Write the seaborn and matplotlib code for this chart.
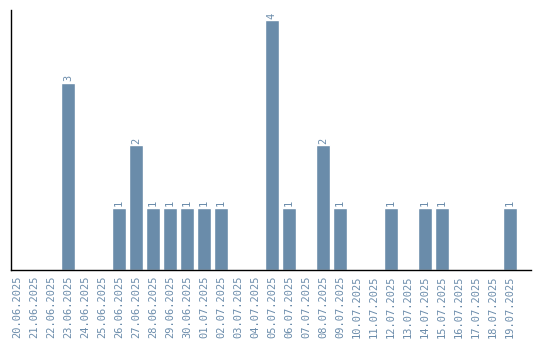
import matplotlib
matplotlib.use("Agg")
import matplotlib.pyplot as plt
import seaborn as sns
import pandas as pd

dates = ["20.06.2025", "21.06.2025", "22.06.2025", "23.06.2025", "24.06.2025",
         "25.06.2025", "26.06.2025", "27.06.2025", "28.06.2025", "29.06.2025",
         "30.06.2025", "01.07.2025", "02.07.2025", "03.07.2025", "04.07.2025",
         "05.07.2025", "06.07.2025", "07.07.2025", "08.07.2025", "09.07.2025",
         "10.07.2025", "11.07.2025", "12.07.2025", "13.07.2025", "14.07.2025",
         "15.07.2025", "16.07.2025", "17.07.2025", "18.07.2025", "19.07.2025"]
counts = [0, 0, 0, 3, 0, 0, 1, 2, 1, 1, 1, 1, 1, 0, 0,
          4, 1, 0, 2, 1, 0, 0, 1, 0, 1, 1, 0, 0, 0, 1]

df = pd.DataFrame({"date": dates, "count": counts})

sns.set_style("white")
plt.rcParams['font.family'] = ['DejaVu Sans Mono', 'DejaVu Sans']
bar_color = "#6a8caa"
text_color = "#6b8cab"

fig = plt.figure(figsize=(5.4, 3.4), dpi=100)
ax = fig.add_axes([11/540, 70/340, 520/540, 260/340])
sns.barplot(data=df, x="date", y="count", color=bar_color, width=0.82,
            saturation=1, ax=ax)
ax.set_xlim(-0.35, 30.24)
ax.set_ylim(0, 4.16)
ax.set_xlabel("")
ax.set_ylabel("")
ax.set_yticks([])
ax.tick_params(axis="x", length=0, pad=4, labelsize=7.5, labelcolor=text_color,
               rotation=90)
for s in ["top", "right"]:
    ax.spines[s].set_visible(False)
for s in ["left", "bottom"]:
    ax.spines[s].set_color("black")
    ax.spines[s].set_linewidth(1.0)

labels = [str(v) if v > 0 else "" for v in counts]
ax.bar_label(ax.containers[0], labels=labels, rotation=90, padding=1,
             fontsize=7.5, color=text_color)

fig.savefig("out.png", dpi=100)
